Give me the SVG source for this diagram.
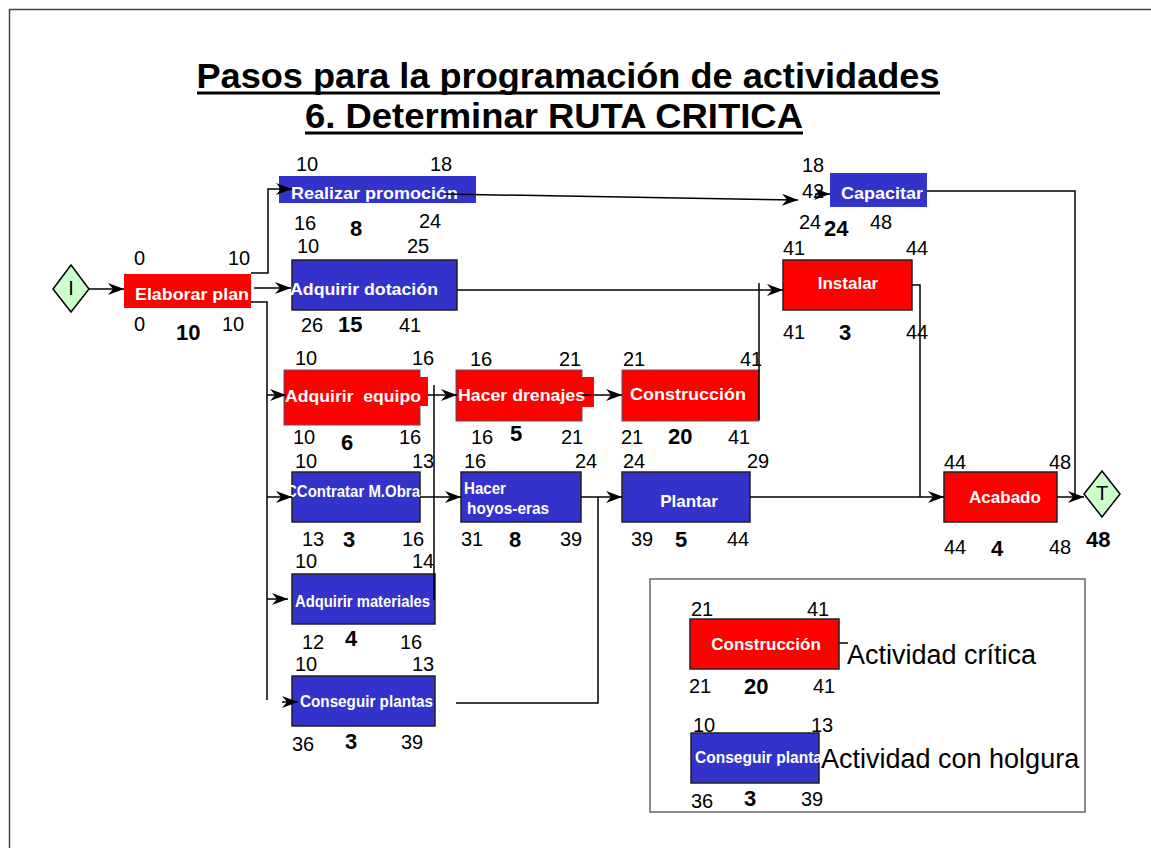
<svg xmlns="http://www.w3.org/2000/svg" width="1151" height="848" viewBox="0 0 1151 848">
<style>
.n{font-family:"Liberation Sans",Arial,sans-serif;font-size:20px;fill:#000}
.b{font-family:"Liberation Sans",Arial,sans-serif;font-size:22px;font-weight:bold;fill:#000}
.lbl{font-family:"Liberation Sans",Arial,sans-serif;font-size:17px;font-weight:bold;fill:#fff;white-space:pre}
.t{font-family:"Liberation Sans",Arial,sans-serif;font-weight:bold;fill:#000}
.red{fill:#ff0000}
.blue{fill:#3333cc}
.edge{stroke:#222;stroke-width:1.5}
.dia{fill:#ccffcc;stroke:#000;stroke-width:1.5}
.c{fill:none;stroke:#000;stroke-width:1.5}
.leg{font-family:"Liberation Sans",Arial,sans-serif;font-size:27px;fill:#000}
</style>
<defs>
<marker id="ah" viewBox="0 0 16 12" refX="16" refY="6" markerWidth="16" markerHeight="12" markerUnits="userSpaceOnUse" orient="auto">
<path d="M0,0 L16,6 L0,12 L5,6 z" fill="#000"/>
</marker>
</defs>
<rect x="9.5" y="9.5" width="1200" height="900" fill="#fff" stroke="#444" stroke-width="1.5"/>
<g id="title">
<text class="t" x="568" y="88" font-size="35" text-anchor="middle" textLength="743" lengthAdjust="spacingAndGlyphs">Pasos para la programación de actividades</text>
<line x1="197" y1="93" x2="940" y2="93" stroke="#000" stroke-width="3"/>
<text class="t" x="554" y="128" font-size="35" text-anchor="middle" textLength="498" lengthAdjust="spacingAndGlyphs">6. Determinar RUTA CRITICA</text>
<line x1="305" y1="133" x2="803" y2="133" stroke="#000" stroke-width="3"/>
</g>
<g id="node-I">
<polygon class="dia" points="71,265 89,289 71,312 53,289"/>
<text class="n" x="71" y="295" text-anchor="middle" font-size="16">I</text>
</g>
<g id="node-elaborar">
<rect class="red" x="124" y="274" width="127" height="34"/>
<text class="lbl" x="135" y="300" font-size="18" textLength="114" lengthAdjust="spacingAndGlyphs">Elaborar plan</text>
<text class="n" x="134" y="265">0</text><text class="n" x="228" y="265">10</text>
<text class="n" x="134" y="331">0</text><text class="b" x="176" y="340">10</text><text class="n" x="222" y="331">10</text>
</g>
<g id="node-promocion">
<rect class="blue" x="279" y="176" width="197" height="27"/>
<text class="lbl" x="291" y="199" textLength="167" lengthAdjust="spacingAndGlyphs">Realizar promoción</text>
<text class="n" x="296" y="171">10</text><text class="n" x="430" y="171">18</text>
<text class="n" x="294" y="230">16</text><text class="b" x="350" y="236">8</text><text class="n" x="419" y="228">24</text>
</g>
<g id="node-dotacion">
<rect class="blue edge" x="292" y="260" width="165" height="50"/>
<text class="lbl" x="290" y="295" font-size="18" textLength="148" lengthAdjust="spacingAndGlyphs">Adquirir dotación</text>
<text class="n" x="297" y="253">10</text><text class="n" x="407" y="253">25</text>
<text class="n" x="301" y="332">26</text><text class="b" x="338" y="332">15</text><text class="n" x="399" y="332">41</text>
</g>
<g id="node-equipo">
<rect class="red" x="284" y="370" width="136" height="55" stroke="#555" stroke-width="1"/>
<rect class="red" x="419" y="377" width="9" height="29"/>
<text class="lbl" x="285" y="402" font-size="18" textLength="136" lengthAdjust="spacingAndGlyphs">Adquirir  equipo</text>
<text class="n" x="295" y="365">10</text><text class="n" x="412" y="365">16</text>
<text class="n" x="293" y="444">10</text><text class="b" x="341" y="450">6</text><text class="n" x="399" y="444">16</text>
</g>
<g id="node-drenajes">
<rect class="red" x="456" y="370" width="126" height="51" stroke="#555" stroke-width="1"/>
<rect class="red" x="581" y="377" width="13" height="30"/>
<text class="lbl" x="458" y="401" font-size="18" textLength="127" lengthAdjust="spacingAndGlyphs">Hacer drenajes</text>
<text class="n" x="470" y="366">16</text><text class="n" x="559" y="366">21</text>
<text class="n" x="471" y="444">16</text><text class="b" x="510" y="441">5</text><text class="n" x="561" y="444">21</text>
</g>
<g id="node-construccion">
<rect class="red" x="622" y="370" width="137" height="51" stroke="#555" stroke-width="1"/>
<text class="lbl" x="630" y="400" font-size="18" textLength="116" lengthAdjust="spacingAndGlyphs">Construcción</text>
<text class="n" x="623" y="366">21</text><text class="n" x="740" y="366">41</text>
<text class="n" x="621" y="444">21</text><text class="b" x="668" y="444">20</text><text class="n" x="728" y="444">41</text>
</g>
<g id="node-contratar">
<rect class="blue edge" x="292" y="472" width="128" height="50"/>
<text class="lbl" x="286" y="497" font-size="16" textLength="134" lengthAdjust="spacingAndGlyphs">CContratar M.Obra</text>
<text class="n" x="295" y="468">10</text><text class="n" x="412" y="468">13</text>
<text class="n" x="302" y="546">13</text><text class="b" x="343" y="547">3</text><text class="n" x="402" y="546">16</text>
</g>
<g id="node-hoyos">
<rect class="blue edge" x="461" y="472" width="120" height="50"/>
<text class="lbl" x="464" y="494" font-size="15" textLength="42" lengthAdjust="spacingAndGlyphs">Hacer</text>
<text class="lbl" x="467" y="514" font-size="15" textLength="82" lengthAdjust="spacingAndGlyphs">hoyos-eras</text>
<text class="n" x="464" y="468">16</text><text class="n" x="575" y="468">24</text>
<text class="n" x="461" y="546">31</text><text class="b" x="509" y="547">8</text><text class="n" x="560" y="546">39</text>
</g>
<g id="node-plantar">
<rect class="blue edge" x="622" y="472" width="128" height="50"/>
<text class="lbl" x="689" y="507" text-anchor="middle">Plantar</text>
<text class="n" x="623" y="468">24</text><text class="n" x="747" y="468">29</text>
<text class="n" x="631" y="546">39</text><text class="b" x="675" y="547">5</text><text class="n" x="727" y="546">44</text>
</g>
<g id="node-materiales">
<rect class="blue edge" x="292" y="574" width="143" height="50"/>
<text class="lbl" x="295" y="607" font-size="15" textLength="135" lengthAdjust="spacingAndGlyphs">Adquirir materiales</text>
<text class="n" x="295" y="568">10</text><text class="n" x="412" y="568">14</text>
<text class="n" x="302" y="649">12</text><text class="b" x="345" y="646">4</text><text class="n" x="400" y="649">16</text>
</g>
<g id="node-conseguir">
<rect class="blue edge" x="292" y="676" width="143" height="50"/>
<text class="lbl" x="300" y="707" font-size="16" textLength="133" lengthAdjust="spacingAndGlyphs">Conseguir plantas</text>
<text class="n" x="295" y="671">10</text><text class="n" x="412" y="671">13</text>
<text class="n" x="292" y="751">36</text><text class="b" x="345" y="749">3</text><text class="n" x="401" y="749">39</text>
</g>
<g id="node-capacitar">
<rect class="blue" x="830" y="173" width="97" height="34"/>
<text class="lbl" x="841" y="199" textLength="82" lengthAdjust="spacingAndGlyphs">Capacitar</text>
<text class="n" x="802" y="172">18</text><text class="n" x="802" y="198">42</text>
<text class="n" x="799" y="229">24</text><text class="b" x="824" y="236">24</text><text class="n" x="870" y="229">48</text>
</g>
<g id="node-instalar">
<rect class="red edge" x="783" y="260" width="129" height="50"/>
<text class="lbl" x="848" y="289" text-anchor="middle">Instalar</text>
<text class="n" x="783" y="255">41</text><text class="n" x="906" y="255">44</text>
<text class="n" x="783" y="339">41</text><text class="b" x="839" y="340">3</text><text class="n" x="906" y="339">44</text>
</g>
<g id="node-acabado">
<rect class="red edge" x="944" y="472" width="113" height="50"/>
<text class="lbl" x="1005" y="503" text-anchor="middle">Acabado</text>
<text class="n" x="944" y="469">44</text><text class="n" x="1049" y="469">48</text>
<text class="n" x="944" y="554">44</text><text class="b" x="991" y="556" font-size="19">4</text><text class="n" x="1049" y="554">48</text>
</g>
<g id="node-T">
<polygon class="dia" points="1102,471 1120,494 1102,517 1084,494"/>
<text class="n" x="1102" y="500" text-anchor="middle" font-size="16">T</text>
<text class="b" x="1086" y="547" font-size="23">48</text>
</g>
<g id="connectors">
<path class="c" d="M89,289 H124" stroke="#555" marker-end="url(#ah)"/>
<path class="c" d="M251,273 H268 V189 H292" marker-end="url(#ah)"/>
<path class="c" d="M254,288 H291" marker-end="url(#ah)"/>
<path class="c" d="M251,302 H267 V700"/>
<path class="c" d="M267,395 H286" marker-end="url(#ah)"/>
<path class="c" d="M267,497 H292" marker-end="url(#ah)"/>
<path class="c" d="M267,599 H288" marker-end="url(#ah)"/>
<path class="c" d="M282,702 H298" marker-end="url(#ah)"/>
<path class="c" d="M428,395 H457" marker-end="url(#ah)"/>
<path class="c" d="M434,600 V385"/>
<path class="c" d="M420,497 H461" marker-end="url(#ah)"/>
<path class="c" d="M582,395 H622" marker-end="url(#ah)"/>
<path class="c" d="M759,420 V283"/>
<path class="c" d="M457,290 H783" marker-end="url(#ah)"/>
<path class="c" d="M581,497 H622" marker-end="url(#ah)"/>
<path class="c" d="M456,703 H598 V497"/>
<path class="c" d="M750,497 H944" marker-end="url(#ah)"/>
<path class="c" d="M912,285 H920 V497"/>
<path class="c" d="M443,194 L798,200" marker-end="url(#ah)"/>
<path class="c" d="M815,194 H830" marker-end="url(#ah)"/>
<path class="c" d="M927,191 H1075 V497"/>
<path class="c" d="M1057,497 H1084" marker-end="url(#ah)"/>
<path class="c" d="M839,643 H848"/>
</g>
<g id="legend">
<rect x="650" y="579" width="435" height="233" fill="none" stroke="#666" stroke-width="1.5"/>
<rect class="red edge" x="690" y="619" width="149" height="50"/>
<text class="lbl" x="766" y="650" font-size="16" text-anchor="middle">Construcción</text>
<text class="n" x="691" y="616">21</text><text class="n" x="807" y="616">41</text>
<text class="n" x="689" y="693">21</text><text class="b" x="744" y="694">20</text><text class="n" x="813" y="693">41</text>
<text class="leg" x="847" y="664">Actividad crítica</text>
<rect class="blue edge" x="691" y="733" width="128" height="50"/>
<text class="lbl" x="695" y="763" font-size="15" textLength="127" lengthAdjust="spacingAndGlyphs">Conseguir planta</text>
<text class="n" x="693" y="732">10</text><text class="n" x="811" y="732">13</text>
<text class="n" x="691" y="808">36</text><text class="b" x="744" y="806">3</text><text class="n" x="801" y="806">39</text>
<text class="leg" x="821" y="768">Actividad con holgura</text>
</g>
</svg>
